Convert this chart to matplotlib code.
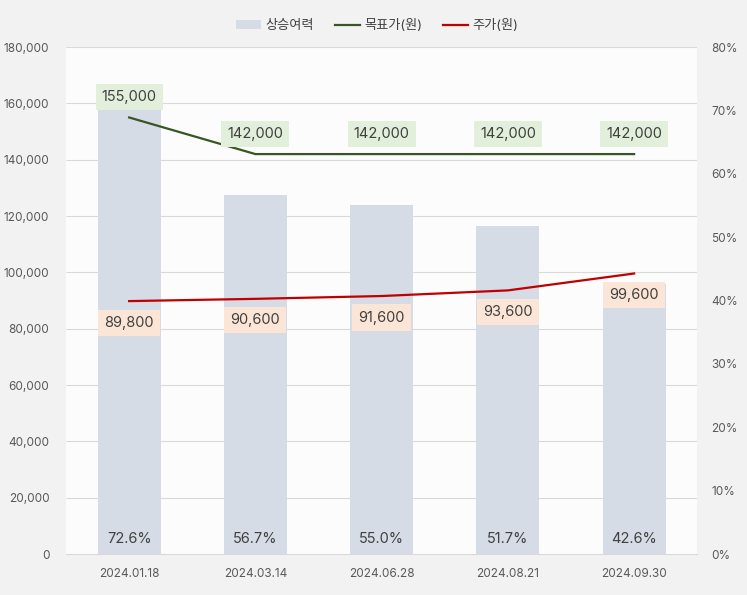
import matplotlib.pyplot as plt

plt.rcParams['font.family'] = ['Inter', 'Noto Sans CJK KR', 'DejaVu Sans']

dates = ["2024.01.18", "2024.03.14", "2024.06.28", "2024.08.21", "2024.09.30"]
upside = [72.6, 56.7, 55.0, 51.7, 42.6]
target = [155000, 142000, 142000, 142000, 142000]
price = [89800, 90600, 91600, 93600, 99600]

left_ticks = list(range(0, 180001, 20000))
right_ticks = list(range(0, 81, 10))

fig = plt.figure(figsize=(7.47, 5.95), dpi=100, facecolor="#f2f2f2")
ax = fig.add_axes([0.0884, 0.0689, 0.845, 0.852])
ax2 = ax.twinx()

x = list(range(len(dates)))

# right axis holds bars + background + grid, left axis draws lines on top
ax2.patch.set_visible(True)
ax2.patch.set_facecolor("#fcfcfc")
ax.set_zorder(ax2.get_zorder() + 1)
ax.patch.set_visible(False)

ax2.hlines([t * 80 / 180000 for t in left_ticks[1:]], -0.5, 4.5,
           color="#d9d9d9", lw=0.8, zorder=0)
ax2.bar(x, upside, width=0.5, color="#d6dce5", zorder=1, label="상승여력")
ax2.set_ylim(0, 80)
ax2.set_yticks(right_ticks)
ax2.set_yticklabels([f"{v}%" for v in right_ticks])
for xi, v in zip(x, upside):
    ax2.text(xi, 2.3, f"{v:.1f}%", ha="center", va="center", fontsize=10.5, color="#404040")

l1, = ax.plot(x, target, color="#375623", lw=1.6)
l2, = ax.plot(x, price, color="#c00000", lw=1.6)
ax.set_ylim(0, 180000)
ax.set_yticks(left_ticks)
ax.set_yticklabels([f"{v:,}" for v in left_ticks])
ax.set_xlim(-0.5, 4.5)
ax.set_xticks(x)
ax.set_xticklabels(dates)

for xi, v in zip(x, target):
    ax.annotate(f"{v:,}", (xi, v), xytext=(0, 14.5), textcoords="offset points",
                ha="center", va="center", fontsize=10.5, color="#404040",
                bbox=dict(boxstyle="square,pad=0.42", fc="#e2efda", ec="none"))
for xi, v in zip(x, price):
    ax.annotate(f"{v:,}", (xi, v), xytext=(0, -15.5), textcoords="offset points",
                ha="center", va="center", fontsize=10.5, color="#404040",
                bbox=dict(boxstyle="square,pad=0.42", fc="#fbe5d6", ec="none"))

for a in (ax, ax2):
    for s in a.spines.values():
        s.set_visible(False)
    a.tick_params(length=0, labelsize=8.5, colors="#595959")
ax.spines["bottom"].set_visible(True)
ax.spines["bottom"].set_color("#d9d9d9")
ax.tick_params(axis="x", pad=10)
ax.tick_params(axis="y", pad=12)
ax2.tick_params(axis="y", pad=10)

h2, lab2 = ax2.get_legend_handles_labels()
fig.legend(h2 + [l1, l2], lab2 + ["목표가(원)", "주가(원)"], loc="center",
           bbox_to_anchor=(0.505, 0.957), ncol=3, frameon=False, fontsize=9.5,
           handlelength=1.9, handleheight=0.6, columnspacing=1.6, handletextpad=0.3,
           labelcolor="#404040")

fig.savefig("out.png", dpi=100, facecolor=fig.get_facecolor())
